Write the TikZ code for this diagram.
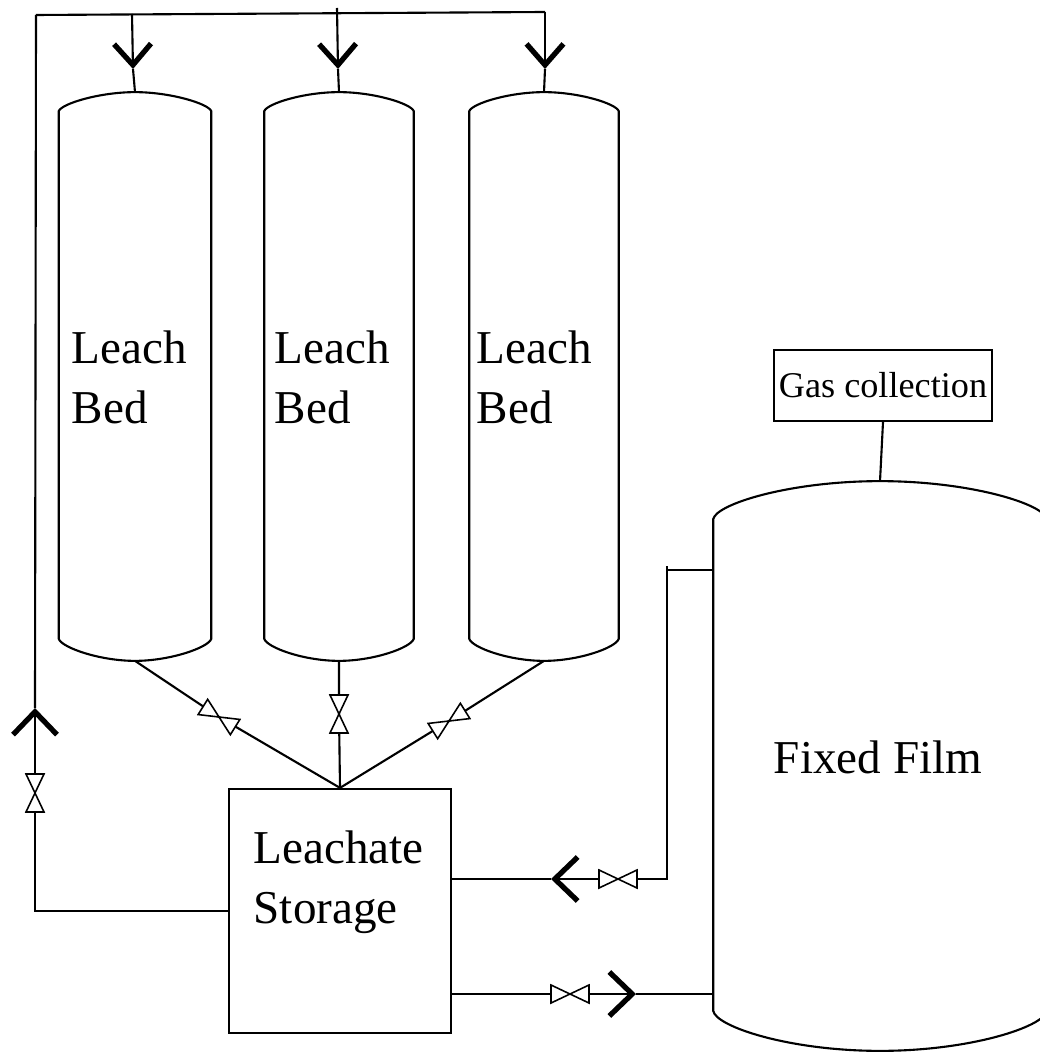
\documentclass[tikz,border=0pt]{standalone}
\usepackage{fontspec}
\setmainfont{Liberation Serif}
\usetikzlibrary{arrows.meta}

\tikzset{
    pipe/.style={line width=0.6pt},
    flow/.style={pipe,-{Straight Barb[length=6pt,width=10.5pt,line width=1.5pt]}},
    bigflow/.style={pipe,-{Straight Barb[length=6.5pt,width=12.5pt,line width=1.5pt]}},
    vessel/.style={inner sep=0pt,minimum height=5.67cm},
    outline/.style={line width=0.6pt},
    valve/.style={line width=0.45pt,fill=white},
    bigtext/.style={inner sep=0pt,align=left,font=\fontsize{13.4}{17}\selectfont},
}

% name, top drop, bottom rise, control offset
\newcommand{\vesselshape}[4]{
    \draw[outline] ([shift={(0,#2)}]#1.north west)
        .. controls +(3,-0.4*#2) and ([shift={(-#4,0)}]#1.north) .. (#1.north)
        .. controls ([shift={(#4,0)}]#1.north) and ([shift={(-3,0.6*#2)}]#1.north east) .. ([shift={(0,#2)}]#1.north east)
        -- ([shift={(0,-#3)}]#1.south east)
        .. controls +(-3,0.4*#3) and ([shift={(#4,0)}]#1.south) .. (#1.south)
        .. controls ([shift={(-#4,0)}]#1.south) and ([shift={(3,-0.6*#3)}]#1.south west) .. ([shift={(0,-#3)}]#1.south west)
        -- cycle;
}

\begin{document}
\begin{tikzpicture}[x=0.01cm,y=-0.01cm]
    \useasboundingbox (0,0) rectangle (1040,1052);
    \clip (0,0) rectangle (1040,1052);

    % Vessels and boxes
    \node[vessel,minimum width=1.51cm] (bed1) at (135,376.5) {};
    \node[vessel,minimum width=1.48cm] (bed2) at (339,376.5) {};
    \node[vessel,minimum width=1.48cm] (bed3) at (544,376.5) {};
    \node[inner sep=0pt,minimum width=3.32cm,minimum height=5.68cm] (film) at (880,766) {};
    \node[draw,outline,inner sep=0pt,minimum width=2.22cm,minimum height=2.44cm] (store) at (340,911) {};
    \node[draw,outline,inner sep=0pt,minimum width=2.18cm,minimum height=0.71cm,
          font=\fontsize{10.3}{12}\selectfont] (gas) at (883,385.5) {Gas collection};

    % Labels
    \node[bigtext,anchor=west] (label1) at (71,377) {Leach\\Bed};
    \node[bigtext,anchor=west] (label2) at (274,377) {Leach\\Bed};
    \node[bigtext,anchor=west] (label3) at (476,377) {Leach\\Bed};
    \node[bigtext,anchor=west] (label4) at (253,882) {Leachate\\Storage};
    \node[bigtext] (label5) at (878,757) {Fixed Film};

    % Pipe junctions
    \coordinate (corner) at (36,15);
    \coordinate (top1) at (132,14);
    \coordinate (top2) at (337,8);
    \coordinate (top3) at (545,12);
    \coordinate (elbow) at (667,566);

    % Valves and arrow points
    \coordinate (v1) at (219,717);
    \coordinate (v2) at (339,714);
    \coordinate (v3) at (449,721);
    \coordinate (v4) at (35,793);
    \coordinate (v5) at (618,879);
    \coordinate (v6) at (570,994);
    \coordinate (a1) at (133,69);
    \coordinate (a2) at (338,69);
    \coordinate (a3) at (545,69);
    \coordinate (a4) at (35,708);
    \coordinate (a5) at (551,879);
    \coordinate (a6) at (636,994);

    % Feed pipes
    \draw[pipe] (corner) -- (top3);
    \draw[pipe] (a4) -- (corner);
    \foreach \n in {1,2,3} {
        \draw[flow] (top\n) -- (a\n);
        \draw[pipe] (a\n) -- (bed\n.north);
    }

    % Drain pipes
    \draw[pipe] (bed1.south) -- (v1) -- (store.north);
    \draw[pipe] (bed2.south) -- (v2) -- (store.north);
    \draw[pipe] (bed3.south) -- (v3) -- (store.north);

    % Recycle
    \draw[bigflow] (store.west) -| (v4) -- (a4);

    % Link to the fixed film
    \draw[pipe] (film.west |- elbow) ++(0,4) -- (elbow |- 0,570);
    \draw[bigflow] (elbow) |- (v5) -- (a5);
    \draw[pipe] (a5) -- (store.east |- a5);
    \draw[bigflow] (store.east |- v6) -- (a6);
    \draw[pipe] (a6) -- (film.west |- a6);
    \draw[pipe] (gas.south) -- (film.north);

    % Vessel outlines
    \vesselshape{bed1}{19}{22}{35}
    \vesselshape{bed2}{19}{22}{35}
    \vesselshape{bed3}{19}{22}{35}
    \vesselshape{film}{38}{40}{90}

    % Draw the valves
    \foreach \v/\r in {v1/-32,v2/90,v3/32,v4/90,v5/0,v6/0} {
        \draw[valve,shift={(\v)},rotate=\r] (-19,-9) -- (19,9) -- (19,-9) -- (-19,9) -- cycle;
    }
\end{tikzpicture}
\end{document}
